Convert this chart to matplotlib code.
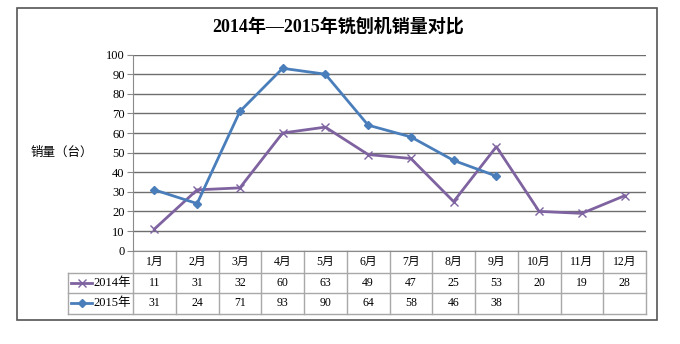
import matplotlib
matplotlib.use('Agg')
import matplotlib.pyplot as plt
import matplotlib.transforms as mtransforms
from matplotlib.patches import Rectangle
import numpy as np

plt.rcParams['font.family'] = ['Liberation Serif', 'Noto Sans CJK SC']

months = ['1月', '2月', '3月', '4月', '5月', '6月', '7月', '8月', '9月', '10月', '11月', '12月']
sales_2014 = [11, 31, 32, 60, 63, 49, 47, 25, 53, 20, 19, 28]
sales_2015 = [31, 24, 71, 93, 90, 64, 58, 46, 38]
series_names = ['2014年', '2015年']

c2014 = '#7E63A0'
c2015 = '#4A7EBB'
grid_c = '#6e6e6e'
table_c = '#a8a8a8'

W, H = 680, 344
fig = plt.figure(figsize=(W / 100, H / 100), dpi=100)


def fx(px):
    return px / W


def fy(py):
    return 1 - py / H


# plot area in pixels
left, right, top, bottom = 133, 646, 54.6, 250.6
ax = fig.add_axes([fx(left), fy(bottom), fx(right) - fx(left), fy(top) - fy(bottom)])

x = np.arange(len(months))
ax.plot(x, sales_2014, color=c2014, lw=2, marker='x', ms=6, mew=1, zorder=3)
ax.plot(x[:len(sales_2015)], sales_2015, color=c2015, lw=2, marker='D', ms=4, zorder=4)

ax.set_xlim(-0.5, len(months) - 0.5)
ax.set_ylim(0, 100)
ax.set_yticks(range(0, 101, 10))
ax.set_xticks([])
ax.yaxis.grid(True, color=grid_c, lw=1)
ax.set_axisbelow(True)
for s in ['top', 'right']:
    ax.spines[s].set_visible(False)
ax.spines['left'].set_color('#8a8a8a')
ax.spines['bottom'].set_color('#8a8a8a')
ax.tick_params(axis='y', length=4, color='#8a8a8a', labelsize=9, pad=2)

# data table under the axis
trans = mtransforms.blended_transform_factory(ax.transData, ax.transAxes)
col_w = (right - left) / len(months)


def ay(py):
    return (bottom - py) / (bottom - top)


def dx(px):
    return (px - left) / col_w - 0.5


row_lines = [273, 293, 314]
x_lab = dx(68)
x_end = len(months) - 0.5
for py in row_lines:
    ax.plot([x_lab, x_end], [ay(py)] * 2, color=table_c, lw=1, transform=trans, clip_on=False)
for i in range(len(months) + 1):
    ax.plot([i - 0.5] * 2, [0, ay(314)], color=table_c, lw=1, transform=trans, clip_on=False)
ax.plot([x_lab] * 2, [ay(273), ay(314)], color=table_c, lw=1, transform=trans, clip_on=False)

for i, m in enumerate(months):
    ax.text(i, ay(262), m, ha='center', va='center', fontsize=8.5, transform=trans)
for i, v in enumerate(sales_2014):
    ax.text(i, ay(283), str(v), ha='center', va='center', fontsize=8.5, transform=trans)
for i, v in enumerate(sales_2015):
    ax.text(i, ay(303.5), str(v), ha='center', va='center', fontsize=8.5, transform=trans)

# legend keys in the row labels
for name, color, mk, ms, yy in [(series_names[0], c2014, 'x', 6, 283),
                                (series_names[1], c2015, 'D', 4, 303.5)]:
    ax.plot([dx(71), dx(92)], [ay(yy)] * 2, color=color, lw=2, transform=trans, clip_on=False)
    ax.plot([dx(81.5)], [ay(yy)], color=color, marker=mk, ms=ms, mew=1, transform=trans, clip_on=False)
    ax.text(dx(93), ay(yy), name, ha='left', va='center', fontsize=9, transform=trans)

fig.text(fx(338), fy(27), '2014年—2015年铣刨机销量对比', ha='center', va='center',
         fontsize=13, fontweight='bold')
fig.text(fx(62), fy(153), '销量（台）', ha='center', va='center', fontsize=9)

fig.patches.append(Rectangle((fx(17), fy(320)), fx(657) - fx(17), fy(8) - fy(320),
                             transform=fig.transFigure, fill=False, ec='#555555', lw=1.2))

fig.savefig('out.png', dpi=100)
